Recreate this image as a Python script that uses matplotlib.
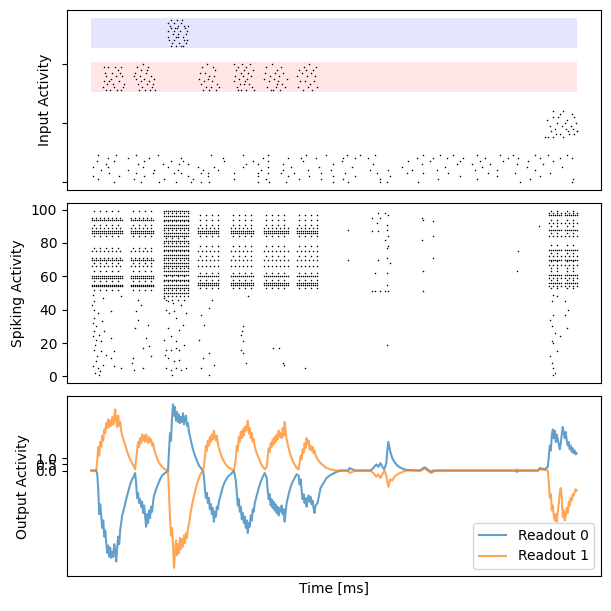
import numpy as np
import matplotlib
matplotlib.use("Agg")
import matplotlib.pyplot as plt

T = 487  # trial length (ms)

# ---------------- input layer ----------------
# noise channels: spike times per channel (row 0 .. 9)
noise_times = [
    [23, 50, 68, 85, 100, 110, 118, 167, 178, 195, 242, 258, 290, 297, 328, 430, 482],
    [7, 43, 73, 102, 143, 175, 208, 230, 253, 290, 348, 387, 440, 483],
    [2, 28, 53, 97, 117, 167, 197, 218, 242, 265, 300, 370, 407, 450],
    [18, 45, 62, 83, 90, 110, 117, 143, 167, 177, 190, 203, 230, 255, 287, 317, 333, 358, 398, 425, 460],
    [10, 37, 63, 87, 112, 127, 170, 192, 217, 240, 280, 298, 322, 347, 385, 407, 445],
    [2, 17, 52, 77, 107, 123, 152, 177, 200, 228, 262, 312, 355, 392, 437, 472],
    [15, 47, 72, 88, 97, 155, 167, 192, 242, 283, 332, 367, 382, 400, 427, 453],
    [6, 23, 53, 80, 92, 133, 162, 177, 212, 252, 318, 340, 370, 390, 413, 438, 463],
    [17, 37, 58, 90, 132, 172, 197, 210, 225, 253, 265, 278, 327, 343, 357, 373, 395, 418, 428, 450, 470, 482],
    [7, 25, 45, 67, 120, 152, 177, 215, 235, 257, 270, 285, 333, 350, 363, 387, 410, 423, 445, 458, 477],
]

# class A channels (blue band), spikes as (time, channel)
blue_t = [77, 80, 83, 86, 87, 90, 93, 97, 77, 80, 83, 86, 87, 95, 77, 82, 85, 92, 78, 83,
          88, 93, 96, 80, 85, 90, 92, 95, 79, 84, 89, 94, 96, 91, 81, 87]
blue_n = [54, 55, 54, 55, 53, 54, 53, 53, 51, 52, 51, 52, 50, 50, 49, 50, 49, 49, 48, 48,
          47, 48, 48, 46, 46, 46, 46, 47, 53, 52, 51, 52, 51, 55, 47, 49]

# class B channels (red band)
pink_t = [13, 17, 24, 30, 14, 21, 27, 15, 20, 25, 31, 13, 18, 22, 28, 33, 12, 15, 19, 23, 26, 30, 32, 16, 29,
          46, 52, 56, 44, 49, 55, 60, 45, 50, 53, 58, 62, 47, 51, 56, 61, 64, 48, 54, 59, 43, 57, 63, 50,
          111, 116, 122, 109, 114, 118, 124, 108, 113, 117, 121, 126, 110, 115, 120, 125, 112, 118, 128, 123,
          143, 147, 151, 155, 159, 145, 150, 153, 157, 162, 144, 148, 152, 156, 160, 143, 149, 154, 158, 146,
          150, 155, 161, 147, 163, 153,
          175, 181, 186, 190, 174, 179, 184, 188, 192, 173, 178, 183, 187, 191, 176, 180, 185, 189, 194, 182,
          196, 186,
          208, 213, 218, 222, 225, 206, 211, 216, 220, 224, 209, 214, 219, 223, 207, 212, 217, 221, 226, 215]
pink_n = [39, 39, 39, 39, 37, 37, 38, 36, 35, 36, 36, 34, 34, 33, 34, 33, 32, 31, 31, 32, 31, 31, 32, 33, 37,
          39, 40, 38, 37, 36, 37, 36, 35, 34, 35, 34, 33, 33, 32, 33, 32, 31, 31, 31, 31, 36, 39, 35, 38,
          39, 40, 39, 37, 37, 36, 38, 35, 34, 35, 34, 33, 33, 32, 32, 31, 31, 31, 32, 36,
          40, 39, 40, 39, 40, 38, 37, 38, 37, 38, 36, 35, 36, 35, 36, 34, 33, 34, 33, 32,
          31, 31, 32, 31, 31, 33,
          39, 40, 38, 39, 37, 36, 37, 36, 37, 35, 34, 35, 34, 33, 32, 31, 32, 31, 32, 31,
          35, 33,
          38, 39, 40, 38, 39, 36, 37, 36, 37, 36, 34, 34, 33, 34, 32, 31, 32, 31, 32, 38]

# late group channels
late_t = [463, 473, 482, 457, 463, 468, 477, 484, 467, 472, 475, 483, 487, 461, 465, 470, 478, 455,
          458, 463, 473, 479, 484, 487, 460, 470, 486, 466, 476, 481]
late_n = [24, 24, 23, 21, 22, 22, 21, 22, 20, 19, 20, 18, 17, 17, 18, 16, 17, 15,
          15, 15, 15, 16, 16, 17, 19, 23, 20, 16, 18, 19]

blue_band = (45.5, 55.5)
pink_band = (30.5, 40.5)

# ---------------- hidden layer ----------------
times_a = [1, 3, 5, 7, 9, 11, 13, 15, 17, 19, 21, 23, 25, 27, 29, 31]
times_b = [40, 42, 44, 46, 48, 50, 52, 54, 56, 58, 60, 62]
times_c = [73, 75, 77, 79, 81, 83, 85, 87, 89, 91, 93, 95, 97]
times_d = [107, 109, 111, 113, 115, 117, 119, 121, 123, 125, 127]
times_e = [140, 142, 144, 146, 148, 150, 152, 154, 156, 158, 160, 162]
times_f = [173, 175, 177, 179, 181, 183, 185, 187, 189, 191, 193, 195, 197]
times_g = [206, 208, 210, 212, 214, 216, 218, 220, 222, 224, 226]
times_h1 = [459, 461, 463, 465, 467, 469, 471]
times_h2 = [475, 477, 479, 481, 483, 485, 487]

rows_ab_dense = [54, 55, 59, 60, 70, 86, 87, 94]
rows_ab_mid = [66, 71, 75, 89, 95]
rows_ab_sparse = [52, 57, 63, 68, 77, 84, 91, 99]

rows_c_dense = [50, 53, 55, 58, 61, 63, 66, 68, 71, 73, 76, 78, 81, 84, 86, 89, 91, 94, 96, 99]
rows_c_mid = [48, 52, 57, 65, 70, 75, 80, 88, 93, 98]
rows_c_sparse = [46, 60, 83]

rows_dg_dense = [55, 56, 60, 86, 87]
rows_dg_mid = [66, 70, 75, 89]
rows_dg_sparse = [53, 58, 62, 72, 78, 84, 91, 94, 97]

rows_h_dense = [56, 61, 70, 76, 88, 97]
rows_h_mid = [54, 59, 67, 72, 84, 92, 98]
rows_h_sparse = [53, 58, 63, 65, 69, 74, 79, 86, 90, 94, 99]

# scattered hidden spikes (time, neuron)
scatter_t = [2, 3, 12, 30, 3, 7, 20, 3, 2, 5, 3, 8, 13, 5, 10, 20, 3, 10, 15, 20, 23, 2, 7, 12, 23, 30,
             8, 5, 1, 4, 6, 9, 2, 11, 4,
             47, 50, 45, 47, 55, 52, 58, 42, 60, 43, 52, 41, 44, 57,
             73, 77, 82, 90, 75, 78, 83, 95, 85, 77, 88, 73, 80, 85, 75, 80, 85, 88, 77, 83, 88, 75, 80,
             85, 90, 95, 92, 74, 81, 93,
             118, 110, 113, 108, 118, 112, 123, 110, 118, 121,
             157, 152, 150, 152, 150, 152, 155, 151,
             182, 188, 192, 193, 214,
             258, 258, 282, 288, 290, 295, 298, 287, 297, 282, 288, 297, 295, 298, 297, 298, 288, 297,
             300, 285, 297, 297, 282, 285, 290, 295, 298, 297, 332, 333, 343, 332, 343, 343, 333, 333,
             428, 427, 449,
             463, 462, 463, 460, 462, 465, 462, 463, 467, 462, 463, 465, 463, 475, 475, 477, 467, 478,
             470, 460]
scatter_n = [49, 45, 47, 48, 40, 38, 39, 35, 32, 30, 27, 25, 27, 22, 21, 23, 16, 15, 13, 11, 15, 6, 5, 7,
             6, 5, 1, 9, 43, 19, 12, 3, 24, 33, 2,
             46, 43, 39, 34, 23, 17, 18, 11, 12, 4, 5, 8, 29, 31,
             47, 45, 44, 43, 40, 38, 39, 38, 35, 29, 28, 22, 24, 21, 16, 16, 17, 16, 11, 9, 10, 5, 4,
             5, 4, 5, 31, 13, 1, 19,
             41, 37, 31, 22, 14, 11, 7, 5, 1, 46,
             48, 30, 25, 21, 16, 14, 8, 27,
             17, 17, 8, 7, 5,
             88, 70, 95, 98, 95, 98, 97, 92, 91, 87, 87, 88, 82, 84, 77, 78, 70, 71,
             68, 62, 62, 55, 51, 51, 51, 51, 51, 19, 95, 94, 93, 82, 84, 71, 63, 51,
             75, 63, 90,
             49, 45, 37, 34, 30, 26, 21, 20, 15, 8, 5, 2, 1, 45, 37, 29, 48, 40,
             24, 12]

# ---------------- readout ----------------
readout_t = [0, 5, 6, 7, 8, 9, 10, 11, 12, 13, 14, 15, 16, 17, 18, 19, 20, 21, 22, 23, 24, 25, 26, 27,
             28, 29, 30, 31, 33, 35, 37, 39, 41, 43, 44, 45, 46, 47, 48, 49, 50, 51, 52, 53, 54, 55,
             56, 57, 58, 59, 60, 61, 62, 63, 65, 67, 69, 71, 74, 77, 78, 79, 80, 81, 82, 83, 84, 85,
             86, 87, 88, 89, 90, 91, 92, 93, 94, 95, 96, 97, 98, 100, 102, 104, 106, 108, 110, 112,
             113, 114, 115, 116, 117, 118, 119, 120, 121, 122, 123, 124, 125, 126, 127, 128, 130, 132,
             134, 137, 141, 143, 145, 146, 147, 148, 149, 150, 151, 152, 153, 154, 155, 156, 157, 158,
             159, 160, 161, 162, 163, 164, 166, 168, 170, 172, 174, 176, 177, 178, 179, 180, 181, 182,
             183, 184, 185, 186, 187, 188, 189, 190, 191, 192, 193, 194, 195, 196, 198, 200, 202, 204,
             206, 208, 209, 210, 211, 212, 213, 214, 215, 216, 217, 218, 219, 220, 221, 222, 223, 224,
             225, 227, 230, 233, 236, 240, 245, 250, 258, 259, 262, 265, 280, 283, 286, 288, 290, 292,
             294, 296, 297, 298, 299, 300, 302, 304, 307, 311, 316, 330, 333, 335, 338, 341, 343, 346,
             425, 427, 429, 448, 450, 455, 458, 459, 460, 461, 462, 463, 464, 465, 466, 467, 468, 469,
             470, 471, 472, 473, 474, 475, 476, 477, 478, 479, 480, 481, 482, 483, 484, 485, 486, 487]
readout_1 = [0, 0, 0.8, 1.9, 1.2, 2.3, 1.9, 2.8, 2.4, 3.3, 3.0, 3.8, 3.4, 4.1, 3.5, 4.0, 3.6, 4.3, 3.7,
             4.1, 4.9, 4.0, 3.5, 4.4, 3.6, 3.9, 3.2, 2.8, 2.3, 1.8, 1.3, 0.9, 0.6, 0.3, 0.1, 0.9, 1.6,
             2.3, 1.9, 2.6, 2.2, 2.9, 2.4, 2.8, 2.3, 2.9, 2.5, 2.2, 2.7, 2.3, 2.5, 2.0, 2.2, 1.7, 1.2,
             0.8, 0.5, 0.3, 0.1, 0.0, -2.0, -3.8, -5.2, -4.6, -6.0, -7.8, -6.5, -5.6, -6.8, -5.9, -6.6,
             -5.4, -6.3, -5.5, -6.1, -5.2, -5.8, -5.0, -5.4, -4.6, -4.3, -3.2, -2.4, -1.7, -1.1, -0.6,
             -0.2, 0.0, 0.3, 1.2, 2.0, 1.6, 2.4, 2.0, 2.7, 2.3, 2.9, 2.5, 3.2, 2.7, 2.4, 2.8, 2.2, 1.8,
             1.3, 0.9, 0.6, 0.3, 0.1, 0.0, 0.9, 2.0, 1.6, 2.7, 2.3, 3.1, 2.6, 3.3, 2.8, 3.5, 3.2, 3.6,
             4.0, 3.0, 3.4, 2.6, 3.0, 2.3, 2.5, 1.9, 1.4, 1.0, 0.6, 0.3, 0.1, 0.3, 1.1, 1.8, 1.5, 2.2,
             1.9, 2.5, 2.1, 2.7, 2.3, 2.9, 2.5, 3.2, 2.7, 3.0, 2.6, 3.4, 2.8, 3.9, 3.1, 2.5, 1.8, 1.2,
             0.8, 0.5, 0.2, 0.1, 0.6, 1.2, 0.9, 1.7, 1.4, 2.2, 1.8, 2.6, 2.1, 2.4, 1.7, 2.0, 1.6, 1.9,
             1.4, 1.6, 1.2, 0.9, 0.6, 0.4, 0.2, 0.1, 0.0, 0.0, 0.0, -0.2, -0.1, 0.0, 0.0, -0.2, -0.5,
             -0.3, -0.6, -0.3, 0.0, -0.4, -0.9, -1.3, -1.0, -0.7, -0.8, -0.5, -0.3, -0.15, 0.0, 0.0,
             0.1, 0.15, -0.05, -0.2, -0.1, 0.0, 0.0, 0.1, 0.0, 0.0, 0.1, 0.05, 0.0, -1.0, -2.2, -1.9,
             -3.2, -2.8, -3.6, -4.0, -3.5, -4.1, -3.3, -2.6, -1.8, -1.4, -2.2, -3.7, -3.2, -4.0, -3.6,
             -3.0, -3.4, -2.5, -2.8, -2.2, -2.4, -1.9, -2.0, -1.7, -1.5, -1.6]
readout_0 = [0, 0, -0.3, -1.5, -3.5, -2.7, -3.6, -4.6, -4.0, -5.3, -4.8, -5.8, -6.6, -6.0, -6.9, -6.2,
             -7.0, -6.5, -6.9, -5.9, -6.4, -7.3, -6.2, -5.3, -5.9, -4.8, -4.2, -3.6, -3.0, -2.3, -1.7,
             -1.1, -0.7, -0.4, -0.2, -1.0, -2.2, -1.8, -2.6, -2.3, -2.9, -2.5, -3.4, -2.8, -3.6, -4.5,
             -3.5, -4.2, -3.2, -3.8, -2.9, -3.3, -2.5, -2.0, -1.5, -1.1, -0.7, -0.4, -0.2, 0.0, 1.6,
             3.0, 2.4, 4.2, 5.3, 4.4, 5.1, 4.0, 4.7, 3.9, 4.5, 3.8, 4.3, 3.9, 4.6, 3.7, 4.2, 4.4, 3.6,
             3.8, 3.1, 2.4, 1.7, 1.2, 0.8, 0.4, 0.2, 0.0, -0.5, -1.5, -2.2, -1.8, -2.6, -2.2, -3.1,
             -2.7, -3.5, -3.0, -4.1, -3.3, -3.7, -2.9, -3.1, -2.5, -1.9, -1.3, -0.9, -0.5, -0.2, 0.0,
             -0.8, -1.8, -2.8, -2.3, -3.3, -2.9, -3.9, -3.4, -4.2, -3.7, -4.6, -4.0, -5.0, -4.2, -4.5,
             -3.6, -4.0, -3.1, -3.3, -2.6, -2.0, -1.4, -0.9, -0.5, -0.2, -0.6, -1.6, -2.3, -1.9, -2.8,
             -2.3, -3.0, -2.5, -3.2, -2.7, -3.4, -2.9, -3.6, -3.0, -3.3, -2.8, -3.5, -3.1, -4.1, -3.3,
             -2.6, -1.9, -1.3, -0.9, -0.6, -0.3, -0.4, -1.1, -0.7, -1.6, -2.3, -1.9, -2.6, -2.2, -2.9,
             -2.4, -2.0, -2.5, -2.1, -2.7, -2.4, -3.0, -3.4, -2.8, -2.6, -1.4, -1.0, -0.6, -0.35,
             -0.15, 0.0, 0.0, 0.2, 0.1, 0.0, 0.0, 0.2, 0.5, 0.3, 0.6, 0.3, 0.1, 0.6, 1.6, 2.3, 1.9,
             1.5, 1.0, 0.7, 0.4, 0.2, 0.05, 0.0, 0.2, 0.25, 0.05, -0.1, 0.0, 0.0, 0.0, -0.1, 0.0, 0.0,
             0.2, 0.1, 0.3, 1.2, 2.0, 1.6, 2.8, 3.3, 2.6, 3.2, 2.3, 2.9, 2.5, 2.1, 1.7, 2.2, 2.9, 3.5,
             3.0, 2.6, 3.1, 2.4, 2.0, 2.3, 1.7, 2.0, 1.5, 1.8, 1.4, 1.6, 1.3, 1.4]


def burst(times, dense, mid, sparse):
    # every listed row fires at the burst's spike times (mid/sparse rows at fewer of them)
    ts, ns = [], []
    for rows, tt in ((dense, times), (mid, times[::2]), (sparse, times[1::3])):
        for n in rows:
            ts += list(tt)
            ns += [n] * len(tt)
    return ts, ns


fig, axes = plt.subplots(3, 1, figsize=(6.11, 6.11), dpi=100, sharex=True)
fig.subplots_adjust(left=67 / 611, right=601 / 611, top=1 - 10 / 611, bottom=1 - 576 / 611, hspace=0.075)
ax_in, ax_hid, ax_out = axes

# input raster
ax_in.fill_between([0, T], blue_band[0], blue_band[1], color="blue", alpha=0.1, linewidth=0)
ax_in.fill_between([0, T], pink_band[0], pink_band[1], color="red", alpha=0.1, linewidth=0)
in_t, in_n = [], []
for row, tt in enumerate(noise_times):
    in_t += tt
    in_n += [row] * len(tt)
in_t += blue_t + pink_t + late_t
in_n += blue_n + pink_n + late_n
ax_in.scatter(in_t, in_n, s=1.2, c="k", marker="o", linewidths=0)
ax_in.set_yticks([0, 20, 40])
ax_in.set_yticklabels(["", "", ""])
ax_in.set_ylabel("Input Activity")

# hidden raster
hid_t, hid_n = list(scatter_t), list(scatter_n)
for tt, d, m, s in [(times_a, rows_ab_dense, rows_ab_mid, rows_ab_sparse),
                    (times_b, rows_ab_dense, rows_ab_mid, rows_ab_sparse),
                    (times_c, rows_c_dense, rows_c_mid, rows_c_sparse),
                    (times_d, rows_dg_dense, rows_dg_mid, rows_dg_sparse),
                    (times_e, rows_dg_dense, rows_dg_mid, rows_dg_sparse),
                    (times_f, rows_dg_dense, rows_dg_mid, rows_dg_sparse),
                    (times_g, rows_dg_dense, rows_dg_mid, rows_dg_sparse),
                    (times_h1, rows_h_dense, rows_h_mid, rows_h_sparse),
                    (times_h2, rows_h_dense, rows_h_mid, rows_h_sparse)]:
    bt, bn = burst(tt, d, m, s)
    hid_t += bt
    hid_n += bn
ax_hid.scatter(hid_t, hid_n, s=1.2, c="k", marker="o", linewidths=0)
ax_hid.set_yticks([0, 20, 40, 60, 80, 100])
ax_hid.set_ylabel("Spiking Activity")

# readout traces
ax_out.plot(readout_t, readout_0, color="C0", alpha=0.7, label="Readout 0")
ax_out.plot(readout_t, readout_1, color="C1", alpha=0.7, label="Readout 1")
ax_out.set_yticks([0.0, 0.5, 1.0])
ax_out.set_ylabel("Output Activity")
ax_out.set_xlabel("Time [ms]")
ax_out.legend(loc="lower right")

for ax in axes:
    ax.set_xticks([])

fig.savefig("out.png", dpi=100)
